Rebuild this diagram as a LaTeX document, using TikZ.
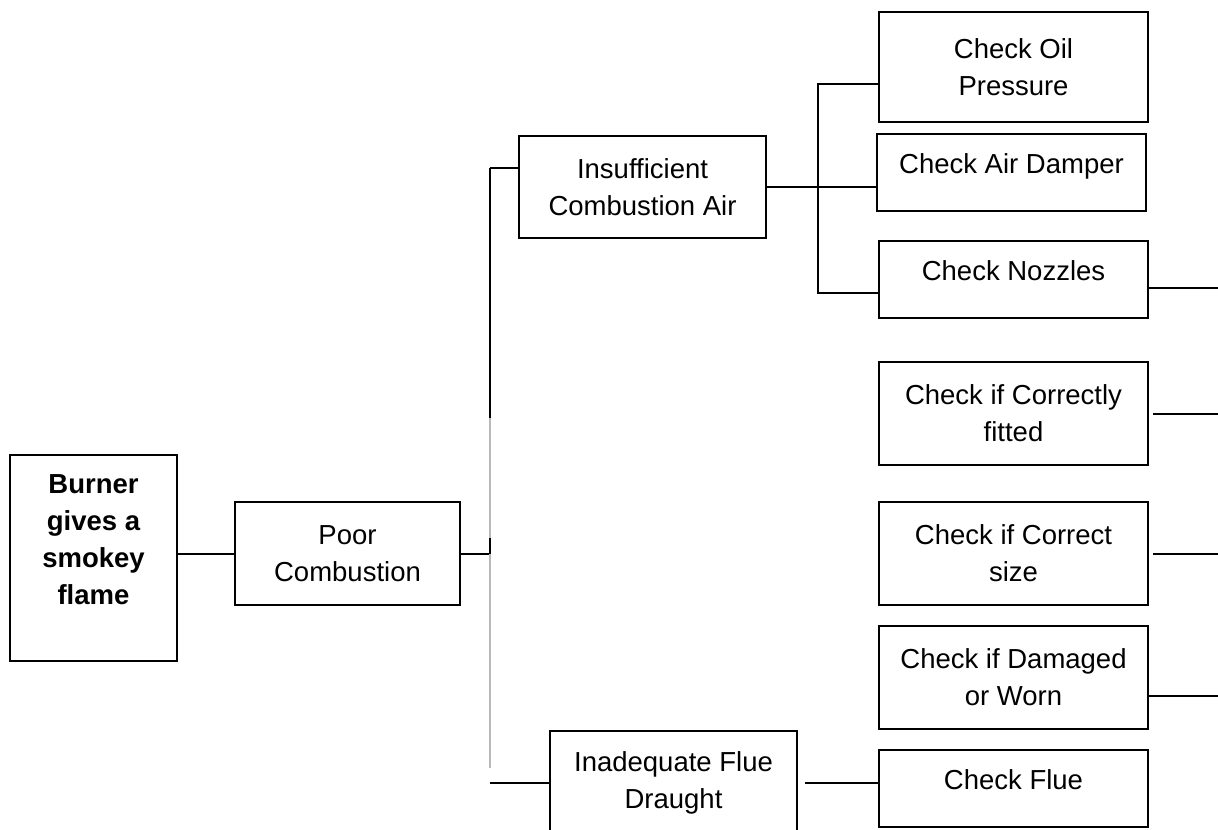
\documentclass[tikz,border=0pt]{standalone}
\usepackage{fontspec}
\setmainfont{Liberation Sans}
\begin{document}
\begin{tikzpicture}[
    x=0.5pt,y=-0.5pt,
    box/.style={draw=black,line width=1pt,align=center,inner sep=0pt,font=\fontsize{13.75}{18.5}\selectfont},
    bold/.style={box,font=\fontsize{13.75}{18.5}\selectfont\bfseries},
    cell/.style={box,minimum width=134.5pt,minimum height=51.5pt},
    low/.style={minimum height=38.5pt,text depth=8.5pt},
    link/.style={draw=black,line width=1pt},
    trunk/.style={draw=gray!55,line width=1pt},
]
	\useasboundingbox (0,0) rectangle (1218,829);
	\clip (0,0) rectangle (1218,829);

	\node[bold,minimum width=83.5pt,minimum height=103pt] at (93.5,558) (burner) {Burner\\gives a\\smokey\\flame\\\mbox{}};
	\node[box,minimum width=112.5pt,minimum height=51.5pt] at (347.5,553.5) (poor) {Poor\\Combustion};
	\node[box,minimum width=123.5pt,minimum height=51pt] at (642.5,187) (ins) {Insufficient\\Combustion Air};
	\node[box,minimum width=123.5pt,minimum height=51.5pt] at (673.5,782.5) (draught) {Inadequate Flue\\Draught};

	\node[cell,minimum height=55pt] at (1013.5,67) (oil) {Check Oil\\Pressure};
	\node[cell,low] at (1011.5,172.5) (damper) {Check Air Damper};
	\node[cell,low] at (1013.5,279.5) (noz) {Check Nozzles};
	\node[cell] at (1013.5,413.5) (fitted) {Check if Correctly\\fitted};
	\node[cell] at (1013.5,553.5) (size) {Check if Correct\\size};
	\node[cell] at (1013.5,677.5) (damaged) {Check if Damaged\\or Worn};
	\node[cell,low] at (1013.5,788.5) (flue) {Check Flue};

	\coordinate (top) at (490,168);
	\coordinate (end) at (490,768);

	\draw[link] (burner.east |- poor.west) -- (poor.west);
	\draw[link] (poor.east) -- (poor.east -| top);
	\draw[link] (top) -- (ins.west |- top);
	\draw[link] (top) -- (490,418);
	\draw[trunk] (490,418) -- (end);
	\draw[link] (490,538) -- (poor.east -| top);
	\draw[link] (end |- draught.west) -- (draught.west); % flue branch

	\draw[link] (ins.east) -- (damper.west |- ins.east);
	\draw[link] (oil.west |- 0,84) -- (818,84) -- (818,293) -- (noz.west |- 0,293);
	\draw[link] ([xshift=3.5pt]draught.east) -- (flue.west |- draught.east);

	% loose ends on the right
	\draw[link] (noz.east |- 0,288) -- ++(73,0);
	\draw[link] ([xshift=2pt]fitted.east) -- ++(66,0);
	\draw[link] ([xshift=2pt]size.east) -- ++(66,0);
	\draw[link] (damaged.east |- 0,696) -- ++(73,0);
\end{tikzpicture}
\end{document}
